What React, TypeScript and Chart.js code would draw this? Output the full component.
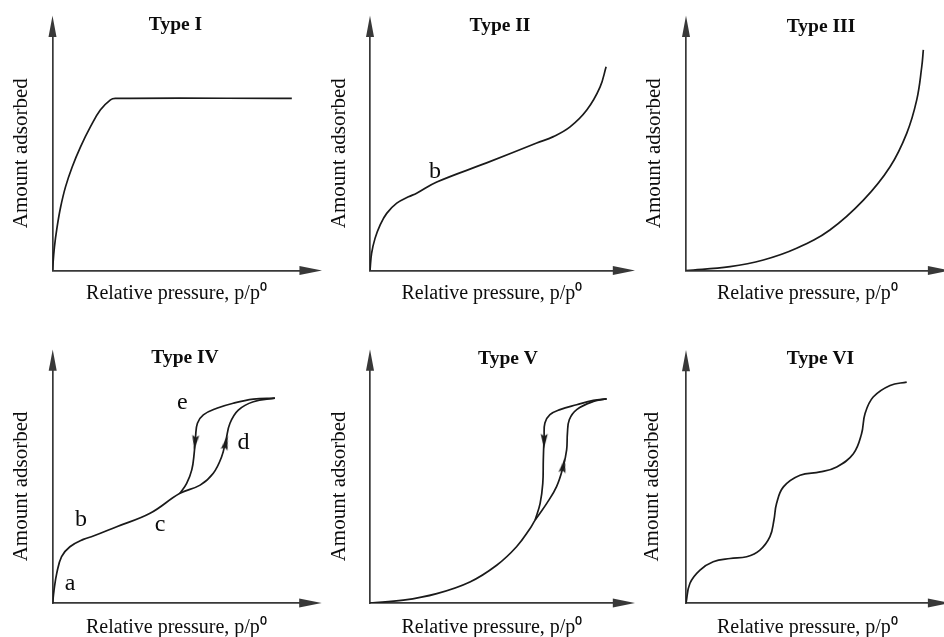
import { useEffect, useRef } from 'react';
import { Chart, registerables } from 'chart.js';

Chart.register(...registerables);

// ---------------- data (relative pressure P, amount adsorbed N; arrow tips = 100) ----------------
const TYPE_I_P = [0, 0.7, 1.7, 3.0, 4.8, 7.3, 10.4, 14.1, 17.8, 21.5, 23.3, 88.8];
const TYPE_I_N = [0, 9.1, 17.0, 24.8, 32.7, 40.6, 48.5, 56.4, 63.0, 66.9, 67.5, 67.5];

const TYPE_II_P = [0, 0.6, 1.9, 3.8, 6.3, 10.1, 14.5, 17.6, 25.2, 44.0, 62.9, 69.2, 75.5, 81.8, 86.8, 89.1];
const TYPE_II_N = [0, 6.7, 12.6, 17.8, 22.4, 26.4, 28.9, 30.3, 34.7, 42.2, 50.0, 52.5, 56.3, 62.9, 71.9, 79.9];

const TYPE_III_P = [0, 16.7, 29.3, 41.9, 54.5, 67.2, 77.3, 83.6, 87.4, 89.3, 89.9];
const TYPE_III_N = [0, 1.5, 4.1, 8.7, 15.9, 27.6, 40.7, 53.8, 66.9, 79.9, 86.5];

const TYPE_IV_P = [0, 0.5, 1.5, 3.3, 6.4, 11.4, 15.1, 23.8, 36.2, 47.3];
const TYPE_IV_N = [0, 5.1, 11.7, 18.3, 22.2, 25.1, 26.4, 30.1, 35.4, 43.3];
const TYPE_IV_ADS_P = [54.8, 59.7, 62.8, 64.4, 65.9, 69.0, 74.6, 82.6];
const TYPE_IV_ADS_N = [46.5, 51.2, 57.7, 64.3, 70.9, 76.1, 79.4, 80.8];
const TYPE_IV_DES_P = [47.3, 49.8, 51.7, 52.6, 53.1, 53.8, 56.0, 61.0, 67.1, 74.6, 82.6];
const TYPE_IV_DES_N = [43.3, 47.2, 52.5, 59.1, 65.6, 70.9, 74.2, 76.8, 78.8, 80.4, 80.8];

const TYPE_V_P = [0, 12.6, 25.2, 37.7, 47.8, 55.3, 60.4, 62.3];
const TYPE_V_N = [0, 1.1, 3.7, 8.3, 14.9, 22.2, 29.4, 32.7];
const TYPE_V_ADS_P = [66.7, 70.4, 72.9, 74.2, 74.5, 75.2, 78.0, 84.3, 89.3];
const TYPE_V_ADS_N = [39.3, 45.9, 53.8, 60.4, 67.0, 72.3, 76.3, 79.5, 80.5];
const TYPE_V_DES_P = [62.3, 64.2, 65.2, 65.4, 65.7, 66.0, 67.9, 71.7, 78.0, 84.3, 89.3];
const TYPE_V_DES_N = [32.7, 39.3, 47.2, 56.5, 65.7, 71.0, 74.3, 76.3, 78.2, 79.9, 80.5];

const TYPE_VI_P = [0, 1.5, 5.3, 10.3, 16.7, 23.0, 28.0, 31.8, 33.3, 34.3, 36.9, 43.2, 50.8, 57.1, 63.4, 66.5, 67.8, 70.9, 77.3, 83.6];
const TYPE_VI_N = [0, 7.8, 13.0, 16.3, 17.6, 18.3, 20.9, 26.2, 32.7, 39.3, 45.9, 50.5, 51.8, 53.8, 59.0, 66.9, 74.8, 81.4, 86.0, 87.3];

// hysteresis direction arrows: position and heading (deg, 0 = up)
const ARROW_IV_P = [52.9, 64.4];
const ARROW_IV_N = [63.3, 63.3];
const ARROW_IV_DIR = [186, 14];
const ARROW_V_P = [65.7, 73.0];
const ARROW_V_N = [63.8, 54.3];
const ARROW_V_DIR = [181, 11];

// point letters
const LETTERS_II = ['b'];
const LETTERS_II_P = [24.5];
const LETTERS_II_N = [38.7];
const LETTERS_IV = ['a', 'b', 'c', 'd', 'e'];
const LETTERS_IV_P = [6.5, 10.5, 39.9, 70.9, 48.2];
const LETTERS_IV_N = [7.8, 32.7, 30.8, 63.4, 79.0];

const TITLES = ['Type I', 'Type II', 'Type III', 'Type IV', 'Type V', 'Type VI'];
const X_LABEL = 'Relative pressure, p/p\u2070';
const Y_LABEL = 'Amount adsorbed';

// ---------------- style / layout ----------------
const FONT = '"Liberation Serif", "Times New Roman", serif';
const CURVE_COLOR = '#1a1a1a';
const AXIS_COLOR = '#383838';
const TEXT_COLOR = '#0c0c0c';
const AXIS_MAX = 92; // chart area edge; arrow tips sit at 100
const TITLE_SIZE = 19.5;
const TITLE_LH = 1;
const YLAB_SIZE = 21;
const YLAB_LH = 1.2;
const XLAB_SIZE = 20;
const XLAB_LH = 1.2;
const LETTER_SIZE = 24;
const Y_PAD_TOP = 6;

const PANELS = [
  { ox: 52.5, oy: 270.5, tipX: 322, tipY: 15.5, titleCx: 175.5, titleCy: 24.5, yLabCx: 21, xLabCy: 293.5, top: 0, height: 310 },
  { ox: 370, oy: 270.5, tipX: 635, tipY: 15.5, titleCx: 500, titleCy: 26, yLabCx: 339, xLabCy: 293.5, top: 0, height: 310 },
  { ox: 686, oy: 270.5, tipX: 950, tipY: 15.5, titleCx: 821, titleCy: 26.5, yLabCx: 654, xLabCy: 293.5, top: 0, height: 310 },
  { ox: 52.7, oy: 603, tipX: 321.7, tipY: 349.5, titleCx: 185, titleCy: 357.5, yLabCx: 21, xLabCy: 627.5, top: 318, height: 319 },
  { ox: 370, oy: 603, tipX: 635, tipY: 349.5, titleCx: 508, titleCy: 359, yLabCx: 339, xLabCy: 627.5, top: 318, height: 319 },
  { ox: 686, oy: 603, tipX: 950, tipY: 350, titleCx: 820.5, titleCy: 359, yLabCx: 652.5, xLabCy: 627.5, top: 318, height: 319 },
];

const zip = (xs: number[], ys: number[]) => xs.map((x, i) => ({ x, y: ys[i] }));

type Letter = { text: string; x: number; y: number };
type ArrowMark = { x: number; y: number; dir: number };

function panelSeries(i: number): { curves: { x: number; y: number }[][]; arrows: ArrowMark[]; letters: Letter[] } {
  const letters = (t: string[], p: number[], n: number[]) => t.map((text, k) => ({ text, x: p[k], y: n[k] }));
  const arrows = (p: number[], n: number[], d: number[]) => p.map((x, k) => ({ x, y: n[k], dir: d[k] }));
  switch (i) {
    case 0:
      return { curves: [zip(TYPE_I_P, TYPE_I_N)], arrows: [], letters: [] };
    case 1:
      return { curves: [zip(TYPE_II_P, TYPE_II_N)], arrows: [], letters: letters(LETTERS_II, LETTERS_II_P, LETTERS_II_N) };
    case 2:
      return { curves: [zip(TYPE_III_P, TYPE_III_N)], arrows: [], letters: [] };
    case 3:
      return {
        curves: [
          zip(TYPE_IV_P.concat(TYPE_IV_ADS_P), TYPE_IV_N.concat(TYPE_IV_ADS_N)),
          zip(TYPE_IV_DES_P, TYPE_IV_DES_N),
        ],
        arrows: arrows(ARROW_IV_P, ARROW_IV_N, ARROW_IV_DIR),
        letters: letters(LETTERS_IV, LETTERS_IV_P, LETTERS_IV_N),
      };
    case 4:
      return {
        curves: [
          zip(TYPE_V_P.concat(TYPE_V_ADS_P), TYPE_V_N.concat(TYPE_V_ADS_N)),
          zip(TYPE_V_DES_P, TYPE_V_DES_N),
        ],
        arrows: arrows(ARROW_V_P, ARROW_V_N, ARROW_V_DIR),
        letters: [],
      };
    default:
      return { curves: [zip(TYPE_VI_P, TYPE_VI_N)], arrows: [], letters: [] };
  }
}

function geometry(p: (typeof PANELS)[number]) {
  const yLH = YLAB_SIZE * YLAB_LH;
  const L = Math.floor(p.yLabCx - Y_PAD_TOP - yLH / 2);
  const yPadTop = p.yLabCx - yLH / 2 - L;
  const yPadBottom = p.ox - L - yPadTop - yLH;
  const W = Math.round(2 * (p.titleCx - L));
  const chartRight = p.ox + (AXIS_MAX / 100) * (p.tipX - p.ox);
  const wR = L + W - chartRight;
  const tLH = TITLE_SIZE * TITLE_LH;
  const tPadTop = p.titleCy - p.top - tLH / 2;
  const chartTop = p.oy - (AXIS_MAX / 100) * (p.oy - p.tipY);
  const tPadBottom = chartTop - p.titleCy - tLH / 2;
  const xLH = XLAB_SIZE * XLAB_LH;
  const xPadTop = p.xLabCy - p.oy - xLH / 2;
  const xPadBottom = p.top + p.height - p.oy - xLH - xPadTop;
  return { L, W, H: p.height, T: p.top, yPadTop, yPadBottom, wR, tPadTop, tPadBottom, xPadTop, xPadBottom };
}

const axisArrows = {
  id: 'axisArrows',
  afterDraw(chart: any) {
    const { ctx, chartArea: a, scales } = chart;
    const tipX = scales.x.getPixelForValue(100);
    const tipY = scales.y.getPixelForValue(100);
    ctx.save();
    ctx.fillStyle = AXIS_COLOR;
    ctx.beginPath();
    ctx.moveTo(a.left, tipY);
    ctx.lineTo(a.left - 4, a.top + 1);
    ctx.lineTo(a.left + 4, a.top + 1);
    ctx.closePath();
    ctx.fill();
    ctx.beginPath();
    ctx.moveTo(tipX, a.bottom);
    ctx.lineTo(a.right - 1, a.bottom - 4.5);
    ctx.lineTo(a.right - 1, a.bottom + 4.5);
    ctx.closePath();
    ctx.fill();
    ctx.restore();
  },
};

const letterLabels = {
  id: 'letterLabels',
  afterDatasetsDraw(chart: any, _args: any, opts: any) {
    const items: Letter[] = (opts && opts.items) || [];
    if (!items.length) return;
    const { ctx, scales } = chart;
    ctx.save();
    ctx.font = `${LETTER_SIZE}px ${FONT}`;
    ctx.fillStyle = TEXT_COLOR;
    ctx.textAlign = 'center';
    ctx.textBaseline = 'middle';
    items.forEach((it) => ctx.fillText(it.text, scales.x.getPixelForValue(it.x), scales.y.getPixelForValue(it.y)));
    ctx.restore();
  },
};

function makeArrowImage(): HTMLCanvasElement {
  const c = document.createElement('canvas');
  c.width = 8;
  c.height = 15;
  const g = c.getContext('2d')!;
  g.fillStyle = CURVE_COLOR;
  g.beginPath();
  g.moveTo(4, 0);
  g.lineTo(0.5, 15);
  g.lineTo(4, 12.5);
  g.lineTo(7.5, 15);
  g.closePath();
  g.fill();
  return c;
}

function Panel({ index }: { index: number }) {
  const ref = useRef<HTMLCanvasElement | null>(null);
  const spec = PANELS[index];
  const g = geometry(spec);

  useEffect(() => {
    if (!ref.current) return;
    const s = panelSeries(index);
    const arrowImg = makeArrowImage();
    const datasets: any[] = s.curves.map((pts, k) => ({
      label: `curve${k}`,
      data: pts,
      yAxisID: 'y',
      borderColor: CURVE_COLOR,
      borderWidth: 1.7,
      pointRadius: 0,
      fill: false,
      tension: 0.4,
    }));
    if (s.arrows.length) {
      datasets.push({
        label: 'direction',
        data: s.arrows.map((a) => ({ x: a.x, y: a.y })),
        yAxisID: 'y',
        showLine: false,
        pointStyle: arrowImg,
        pointRadius: 4,
        pointRotation: s.arrows.map((a) => a.dir),
      });
    }
    const chart = new Chart(ref.current, {
      type: 'line',
      data: { datasets },
      plugins: [axisArrows, letterLabels],
      options: {
        animation: false,
        responsive: false,
        devicePixelRatio: 1,
        events: [],
        layout: { padding: 0 },
        plugins: {
          legend: { display: false },
          tooltip: { enabled: false },
          title: {
            display: true,
            text: TITLES[index],
            color: TEXT_COLOR,
            fullSize: true,
            font: { family: FONT, size: TITLE_SIZE, weight: 'bold', lineHeight: TITLE_LH },
            padding: { top: g.tPadTop, bottom: g.tPadBottom },
          },
          letterLabels: { items: s.letters },
        } as any,
        scales: {
          x: {
            type: 'linear',
            min: 0,
            max: AXIS_MAX,
            grid: { display: false, drawTicks: false },
            ticks: { display: false },
            border: { display: true, color: AXIS_COLOR, width: 1.7 },
            title: {
              display: true,
              text: X_LABEL,
              color: TEXT_COLOR,
              font: { family: FONT, size: XLAB_SIZE, lineHeight: XLAB_LH },
              padding: { top: g.xPadTop, bottom: g.xPadBottom },
            },
          },
          y: {
            type: 'linear',
            position: 'left',
            min: 0,
            max: AXIS_MAX,
            grid: { display: false, drawTicks: false },
            ticks: { display: false },
            border: { display: true, color: AXIS_COLOR, width: 1.7 },
            title: {
              display: true,
              text: Y_LABEL,
              color: TEXT_COLOR,
              font: { family: FONT, size: YLAB_SIZE, lineHeight: YLAB_LH },
              padding: { top: g.yPadTop, bottom: g.yPadBottom },
            },
          },
          yR: {
            type: 'linear',
            position: 'right',
            display: true,
            grid: { display: false, drawTicks: false },
            ticks: { display: false },
            border: { display: false },
            title: { display: false },
            afterFit: (scale: any) => {
              scale.width = g.wR;
            },
          },
        },
      } as any,
    });
    return () => chart.destroy();
  }, [index]);

  return (
    <canvas
      ref={ref}
      width={g.W}
      height={g.H}
      style={{ position: 'absolute', left: g.L, top: g.T, width: g.W, height: g.H }}
    />
  );
}

export default function App() {
  return (
    <div
      style={{
        position: 'absolute',
        left: 0,
        top: 0,
        width: 944,
        height: 637,
        overflow: 'hidden',
        background: '#ffffff',
      }}
    >
      {PANELS.map((_, i) => (
        <Panel key={i} index={i} />
      ))}
    </div>
  );
}
